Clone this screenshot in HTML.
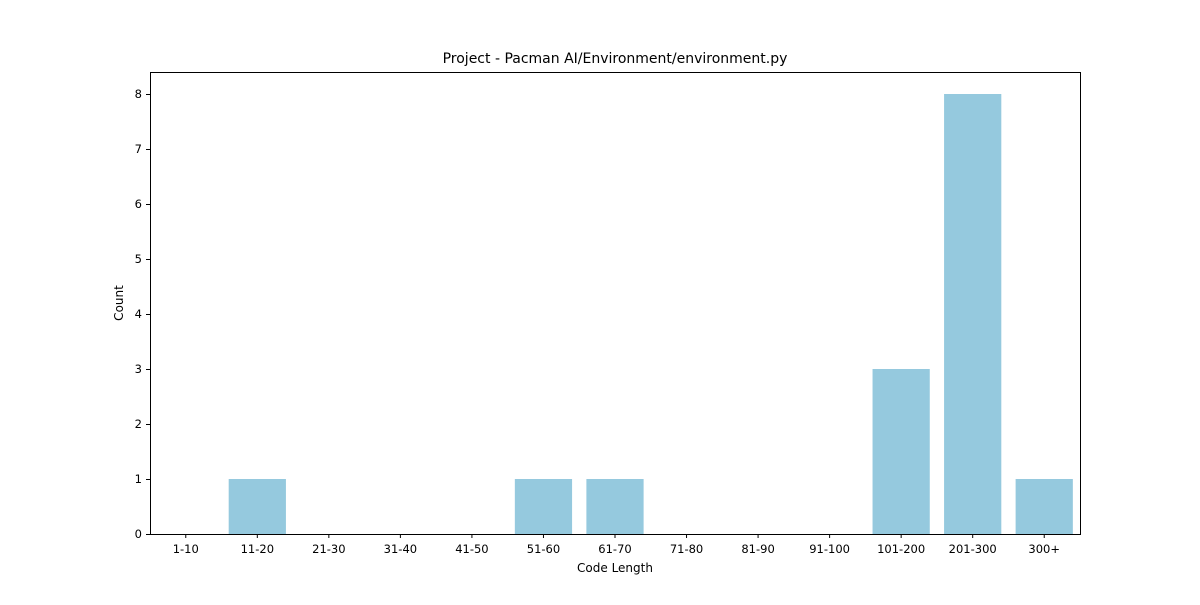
<!DOCTYPE html>
<html><head><meta charset="utf-8"><style>
body{margin:0;background:#fff;}
svg text{font-family:"DejaVu Sans","Liberation Sans",sans-serif;fill:#000;}
</style></head><body>
<svg id="chart" width="1200" height="600">
<text x="615" y="63" text-anchor="middle" font-size="14">Project - Pacman AI/Environment/environment.py</text>
<g id="bars"></g><g id="xticks"></g><g id="yticks"></g>
<rect x="150.5" y="72.5" width="930" height="462" fill="none" stroke="#000" stroke-width="1"/>
<text x="615" y="572" text-anchor="middle" font-size="12">Code Length</text>
<text transform="translate(123,303) rotate(-90)" text-anchor="middle" font-size="12">Count</text>
</svg>
<script>
const categories=["1-10","11-20","21-30","31-40","41-50","51-60","61-70","71-80","81-90","91-100","101-200","201-300","300+"];
const counts=[0,1,0,0,0,1,1,0,0,0,3,8,1];
const yTicks=[0,1,2,3,4,5,6,7,8];
const L=150,R=1080,T=72,B=534,ymax=8.4;
const NS="http://www.w3.org/2000/svg";
const bw=(R-L)/categories.length;
const xc=i=>L+bw*(i+0.5);
const y=v=>B-(v/ymax)*(B-T);
function mk(tag,attrs,parent){const e=document.createElementNS(NS,tag);for(const k in attrs)e.setAttribute(k,attrs[k]);parent.appendChild(e);return e;}
const gb=document.getElementById('bars'),gx=document.getElementById('xticks'),gy=document.getElementById('yticks');
categories.forEach((c,i)=>{
  const r=mk('rect',{x:xc(i)-bw*0.4,y:y(counts[i]),width:bw*0.8,height:B-y(counts[i]),fill:'#95c9de'},gb);
  
  
  const t=mk('line',{x1:xc(i),x2:xc(i),y1:B,y2:B+4,stroke:'#000'},gx);
  
  
  const tx=mk('text',{x:xc(i),y:B+19,'text-anchor':'middle','font-size':'11.5'},gx);
  tx.textContent=c;
  
  
});
yTicks.forEach(v=>{
  const t=mk('line',{x1:L-4,x2:L,y1:y(v)+0.5,y2:y(v)+0.5,stroke:'#000'},gy);
  
  
  const tx=mk('text',{x:L-8,y:y(v)+4,'text-anchor':'end','font-size':'11.5'},gy);
  tx.textContent=v;
  
  
});
</script>
</body></html>
